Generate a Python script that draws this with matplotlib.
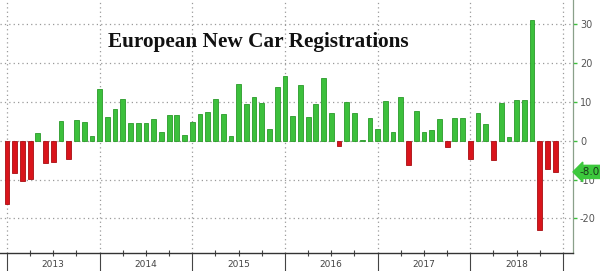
import matplotlib
matplotlib.use("Agg")
import matplotlib.pyplot as plt
import matplotlib.transforms as mtransforms
import numpy as np

# Monthly YoY % change in European new car registrations, Dec 2012 .. Nov 2018
months = [f"{y}-{m:02d}" for y, m in [(2012, 12)] + [(y, m) for y in range(2013, 2019) for m in range(1, 13)]][:72]
values = [
    -16.2,
    -8.4, -10.3, -9.9, 1.9, -5.7, -5.4, 5.2, -4.7, 5.5, 4.9, 1.3, 13.4,
    6.1, 8.1, 10.8, 4.7, 4.7, 4.7, 5.6, 2.3, 6.6, 6.6, 1.5, 4.9,
    6.8, 7.4, 10.7, 7.0, 1.3, 14.7, 9.5, 11.4, 9.8, 3.0, 13.8, 16.7,
    6.4, 14.3, 6.2, 9.4, 16.3, 7.2, -1.3, 10.1, 7.2, 0.2, 5.8, 3.1,
    10.3, 2.3, 11.3, -6.3, 7.7, 2.2, 2.8, 5.6, -1.6, 5.9, 5.9, -4.6,
    7.2, 4.4, -5.0, 9.7, 0.9, 10.6, 10.6, 31.1, -23.1, -7.2, -8.0,
]
years = [2013, 2014, 2015, 2016, 2017, 2018]
yticks = [-20, -10, 0, 10, 20, 30]
title = "European New Car Registrations"

x = np.arange(len(values))
vals = np.array(values)

fig = plt.figure(figsize=(6.0, 2.71), dpi=100)
ax = fig.add_axes([0.0, 1 - 253 / 271, 573 / 600, 253 / 271])

green, green_e = "#3cc03c", "#2a9a2a"
red, red_e = "#d9141b", "#a80d12"
colors = [green if v >= 0 else red for v in vals]
edges = [green_e if v >= 0 else red_e for v in vals]
ax.bar(x, vals, width=0.62, color=colors, edgecolor=edges, linewidth=0.6, zorder=3)

ax.set_xlim(-0.9, 73.3)
ax.set_ylim(-28.9, 36.3)

# grid
ax.set_yticks(yticks)
ax.grid(axis="y", linestyle=(0, (1, 2.5)), color="#9a9a9a", linewidth=0.9)
year_bounds = [12 * k for k in range(len(years) + 1)]
for b in year_bounds:
    ax.axvline(b, linestyle=(0, (1, 2.5)), color="#9a9a9a", linewidth=0.9, zorder=1)

# y axis on right
ax.yaxis.tick_right()
ax.tick_params(axis="y", which="major", length=3, width=1, color="#3cc03c",
               labelsize=7, labelcolor="#555555", pad=2)
ax.set_yticklabels([str(t) for t in yticks])

# x axis ticks
ax.set_xticks(year_bounds)
ax.set_xticklabels([])
ax.set_xticks(np.arange(0, 73, 3), minor=True)
ax.tick_params(axis="x", which="major", length=14, width=0.8, color="#444444", direction="out")
ax.tick_params(axis="x", which="minor", length=4, width=0.8, color="#444444", direction="inout")

for s in ["top", "left"]:
    ax.spines[s].set_visible(False)
ax.spines["bottom"].set_color("#333333")
ax.spines["bottom"].set_linewidth(1.0)
ax.spines["right"].set_color("#8aa08a")
ax.spines["right"].set_linewidth(0.9)

trans = mtransforms.blended_transform_factory(ax.transData, ax.transAxes)
for k, yr in enumerate(years):
    ax.text(12 * k + 6, -0.047, str(yr), transform=trans, ha="center", va="center",
            fontsize=6.5, color="#444444", clip_on=False)

# last value label
last = values[-1]
ax.annotate(f"{last:.1f}", xy=(1.0, last), xycoords=("axes fraction", "data"),
            xytext=(5, 0), textcoords="offset points", ha="left", va="center",
            fontsize=7.5, color="#1a3a1a",
            bbox=dict(boxstyle="larrow,pad=0.15", fc="#3cc83c", ec="#3cc83c"),
            annotation_clip=False)

ax.text(0.451, 0.834, title, transform=ax.transAxes, ha="center", va="center",
        fontsize=15.3, fontweight="bold", family="Liberation Serif", color="#111111")

fig.savefig("out.png", dpi=100)
